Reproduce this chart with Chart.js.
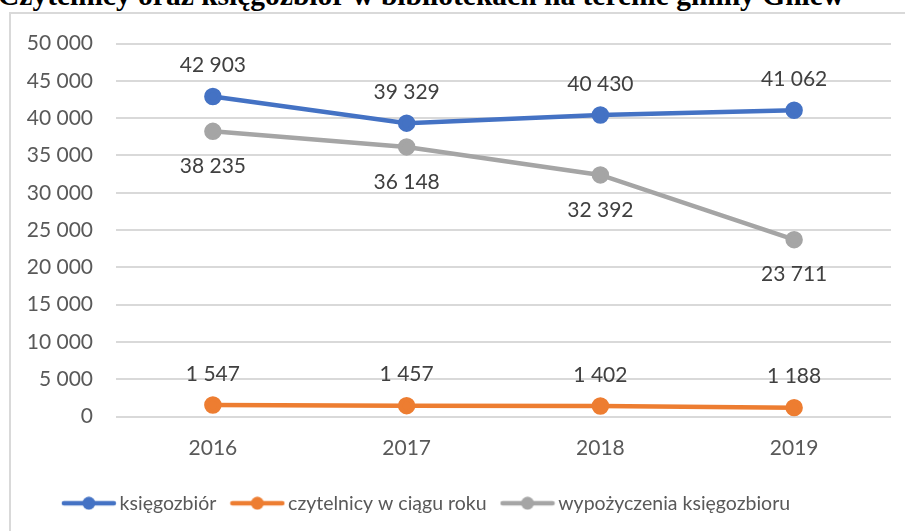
<!DOCTYPE html>
<html lang="pl">
<head>
<meta charset="utf-8">
<script src="https://cdn.jsdelivr.net/npm/chart.js@4"></script>
<style>
  html, body { margin: 0; padding: 0; background: #fff; overflow: hidden; width: 905px; height: 531px; }
  #tytul {
    position: absolute; left: -2px; top: -19px;
    font: bold 29.5px 'Liberation Serif', 'Times New Roman', serif;
    line-height: 29px; white-space: nowrap; color: #000;
  }
  #ramka {
    position: absolute; left: 9px; top: 12px; width: 1000px; height: 600px;
    border: 2px solid #d9d9d9; overflow: hidden; background: #fff;
  }
  #wykres { position: absolute; left: -44px; top: -6px; }
</style>
</head>
<body>
<div id="tytul">Czytelnicy oraz księgozbiór w bibliotekach na terenie gminy Gniew</div>
<div id="ramka"><canvas id="wykres" width="954" height="530"></canvas></div>
<script>
const lata = ['2016', '2017', '2018', '2019']
const ksiegozbior = [42903, 39329, 40430, 41062]
const czytelnicy = [1547, 1457, 1402, 1188]
const wypozyczenia = [38235, 36148, 32392, 23711]
const osY = { min: 0, max: 50000, krok: 5000 }

const NIEBIESKI = '#4472c4'
const POMARANCZ = '#ed7d31'
const SZARY = '#a5a5a5'
const CZCIONKA = 'Lato'

// 42903 -> "42 903", 1547 -> "1 547"
const fmt = v => String(v).replace(/\B(?=(\d{3})+(?!\d))/g, ' ')

// znacznik legendy: linia z kropką
function znacznik(kolor) {
    const c = document.createElement('canvas')
    c.width = 56
    c.height = 14
    const g = c.getContext('2d')
    g.strokeStyle = kolor
    g.lineWidth = 4.5
    g.lineCap = 'round'
    g.beginPath()
    g.moveTo(3, 7)
    g.lineTo(53, 7)
    g.stroke()
    g.fillStyle = kolor
    g.beginPath()
    g.arc(28, 7, 6.5, 0, Math.PI * 2)
    g.fill()
    return c
}

const etykiety = {
    id: 'etykiety',
    afterDatasetsDraw(chart) {
        const ctx = chart.ctx
        ctx.save()
        ctx.font = '21px ' + CZCIONKA
        ctx.fillStyle = '#404040'
        ctx.textAlign = 'center'
        ctx.textBaseline = 'middle'
        chart.data.datasets.forEach((ds, i) => {
            const meta = chart.getDatasetMeta(i)
            meta.data.forEach((pt, j) => {
                const dy = ds.etykieta === 'pod' ? 35 : -31
                ctx.fillText(fmt(ds.data[j]), pt.x, pt.y + dy)
            })
        })
        ctx.restore()
    }
}

const seria = (nazwa, dane, kolor, etykieta) => ({
    label: nazwa,
    data: dane,
    borderColor: kolor,
    backgroundColor: kolor,
    pointBackgroundColor: kolor,
    pointBorderColor: kolor,
    borderWidth: 4.5,
    pointRadius: 6.5,
    pointHoverRadius: 6.5,
    tension: 0,
    etykieta: etykieta,
    znak: znacznik(kolor)
})

Chart.defaults.font.family = CZCIONKA
Chart.defaults.font.size = 21
Chart.defaults.color = '#595959'

new Chart(document.getElementById('wykres'), {
    type: 'line',
    data: {
        labels: lata,
        datasets: [
            seria('księgozbiór', ksiegozbior, NIEBIESKI, 'nad'),
            seria('czytelnicy w ciągu roku', czytelnicy, POMARANCZ, 'nad'),
            seria('wypożyczenia księgozbioru', wypozyczenia, SZARY, 'pod')
        ]
    },
    options: {
        responsive: false,
        animation: false,
        layout: { padding: { left: 0, right: 30, top: 23, bottom: 15 } },
        scales: {
            x: {
                offset: true,
                grid: { display: false, drawTicks: false },
                border: { display: false },
                ticks: { padding: 19, color: '#595959' },
                afterFit: s => { s.height = 57 }
            },
            y: {
                min: osY.min,
                max: osY.max,
                grid: { color: '#d9d9d9', lineWidth: 2, drawTicks: false },
                border: { display: false },
                ticks: { stepSize: osY.krok, padding: 23, color: '#595959', callback: v => fmt(v) },
                afterFit: s => { s.width = 149 }
            }
        },
        plugins: {
            legend: {
                position: 'bottom',
                labels: {
                    usePointStyle: true,
                    pointStyleWidth: 42,
                    padding: 20,
                    color: '#595959',
                    font: { size: 19.5 },
                    generateLabels: chart => {
                        const items = Chart.defaults.plugins.legend.labels.generateLabels(chart)
                        items.forEach(it => { it.pointStyle = chart.data.datasets[it.datasetIndex].znak })
                        return items
                    }
                }
            },
            tooltip: { enabled: false },
            title: { display: false }
        }
    },
    plugins: [etykiety]
})
</script>
</body>
</html>
